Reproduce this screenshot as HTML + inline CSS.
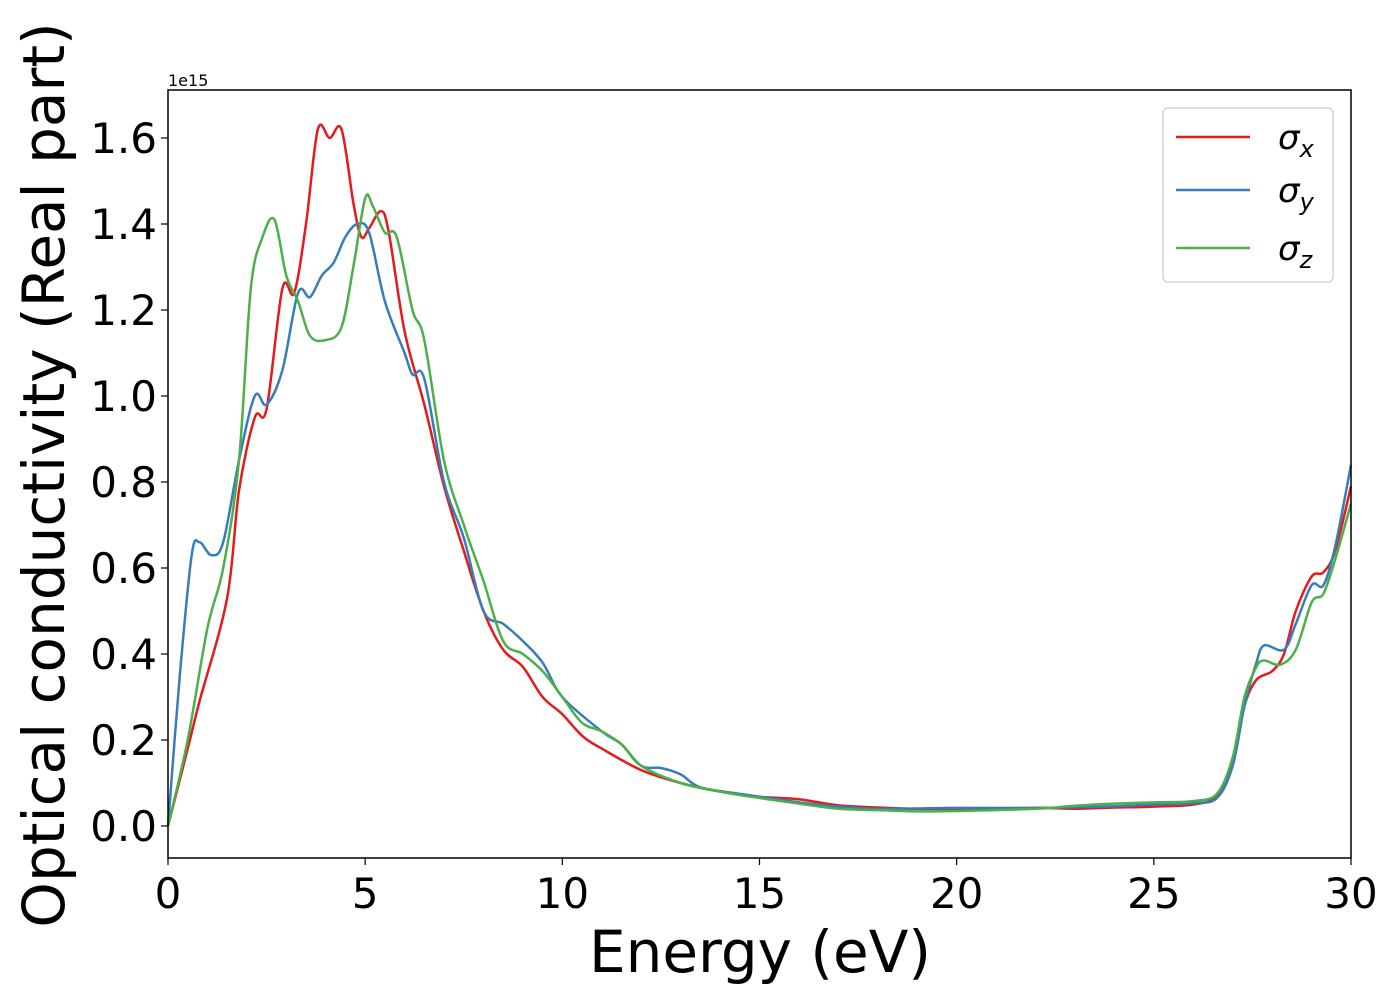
<!DOCTYPE html>
<html><head><meta charset="utf-8"><style>
html,body{margin:0;padding:0;background:#fff;}
svg{display:block;font-family:"DejaVu Sans","Liberation Sans",sans-serif;}
</style></head><body>
<svg id="chart" width="1400" height="1000" viewBox="0 0 1400 1000">
<rect x="0" y="0" width="1400" height="1000" fill="#fff"/>
<g id="plot"></g>
<rect x="168" y="90" width="1183" height="768" fill="none" stroke="#000" stroke-width="1.5"/>
<g id="xticks"></g>
<g id="yticks"></g>
<text x="168" y="86" font-size="16">1e15</text>
<text x="760" y="972" font-size="58" text-anchor="middle">Energy (eV)</text>
<text x="0" y="0" font-size="58" text-anchor="middle" transform="translate(64,475) rotate(-90)">Optical conductivity (Real part)</text>
<g>
<rect x="1163" y="108" width="170" height="174" rx="5" fill="#fff" stroke="#ccc" stroke-width="1.2"/>
<g>
<line x1="1176" y1="137" x2="1250" y2="137" stroke="#e41a1c" stroke-width="2.5"/>
<text x="1278" y="149" font-size="34" font-style="italic">σ<tspan font-size="24" dy="8">x</tspan></text></g>
<g>
<line x1="1176" y1="190" x2="1250" y2="190" stroke="#377eb8" stroke-width="2.5"/>
<text x="1278" y="202" font-size="34" font-style="italic">σ<tspan font-size="24" dy="8">y</tspan></text></g>
<g>
<line x1="1176" y1="248" x2="1250" y2="248" stroke="#4daf4a" stroke-width="2.5"/>
<text x="1278" y="260" font-size="34" font-style="italic">σ<tspan font-size="24" dy="8">z</tspan></text></g>
</g>
</svg>
<script>
const xTicks=[0,5,10,15,20,25,30];
const yTicks=[0,0.2,0.4,0.6,0.8,1.0,1.2,1.4,1.6];
const yTickLabels=["0.0","0.2","0.4","0.6","0.8","1.0","1.2","1.4","1.6"];
const redE=[0,0.5,0.8,1.5,1.8,2.2,2.5,2.9,3.2,3.5,3.8,4.1,4.4,4.7,4.9,5.1,5.4,5.6,6.0,6.5,7.0,7.5,8.0,8.5,9.0,9.5,10,10.5,11,12,13,14,15,16,17,18,19,20,22,23,24,25,26,26.6,27,27.3,27.6,28,28.3,28.6,29,29.3,29.6,30];
const redV=[0,0.18,0.29,0.53,0.78,0.95,0.97,1.25,1.24,1.4,1.62,1.60,1.62,1.45,1.37,1.39,1.43,1.38,1.15,0.98,0.79,0.64,0.5,0.41,0.37,0.3,0.26,0.21,0.18,0.13,0.1,0.08,0.068,0.062,0.048,0.043,0.04,0.04,0.042,0.04,0.043,0.045,0.05,0.07,0.15,0.28,0.34,0.36,0.40,0.5,0.58,0.59,0.64,0.79];
const blueE=[0,0.3,0.6,0.8,1.1,1.4,1.8,2.2,2.5,2.9,3.3,3.6,3.9,4.2,4.5,4.8,5.1,5.5,6.0,6.2,6.5,7.0,7.5,8,8.5,9,9.5,10,11,11.5,12,12.5,13,13.5,14.5,15,16,17,18,20,22,24,25,26,26.6,27,27.3,27.6,27.8,28.3,28.6,29,29.3,29.6,30];
const blueV=[0,0.35,0.63,0.66,0.63,0.66,0.85,1.0,0.98,1.06,1.24,1.23,1.28,1.31,1.37,1.40,1.38,1.22,1.1,1.05,1.04,0.8,0.67,0.5,0.47,0.43,0.38,0.3,0.22,0.19,0.14,0.135,0.12,0.09,0.075,0.068,0.055,0.045,0.04,0.042,0.042,0.046,0.05,0.053,0.065,0.14,0.28,0.38,0.42,0.41,0.47,0.56,0.56,0.65,0.84];
const greenE=[0,0.5,1.0,1.4,1.8,2.1,2.4,2.7,3.0,3.3,3.6,4.0,4.4,4.7,5.0,5.2,5.5,5.8,6.2,6.5,7.0,7.5,8,8.5,9,9.5,10,10.5,11,11.5,12,13,14,15,16,17,18,19,20,22,23,24,25,26,26.6,27,27.3,27.6,27.8,28.2,28.6,29,29.3,29.6,30];
const greenV=[0,0.2,0.46,0.6,0.85,1.25,1.37,1.41,1.28,1.22,1.14,1.13,1.16,1.3,1.46,1.44,1.38,1.37,1.2,1.13,0.85,0.7,0.57,0.43,0.4,0.36,0.3,0.24,0.22,0.19,0.14,0.1,0.08,0.065,0.052,0.04,0.037,0.034,0.035,0.04,0.047,0.052,0.055,0.058,0.075,0.16,0.3,0.37,0.385,0.375,0.41,0.52,0.54,0.62,0.75];

const NS='http://www.w3.org/2000/svg';
function xs(v){return 168+v*(1183/30);}
function ys(v){return 826-v*430;}
function smoothPath(E,V){
  const p=E.map((e,i)=>[xs(e),ys(V[i])]);
  let d='M'+p[0][0].toFixed(1)+','+p[0][1].toFixed(1);
  for(let i=0;i<p.length-1;i++){
    const p0=p[i-1]||p[i],p1=p[i],p2=p[i+1],p3=p[i+2]||p2;
    const c1=[p1[0]+(p2[0]-p0[0])/6,p1[1]+(p2[1]-p0[1])/6];
    const c2=[p2[0]-(p3[0]-p1[0])/6,p2[1]-(p3[1]-p1[1])/6];
    d+=' C'+c1[0].toFixed(1)+','+c1[1].toFixed(1)+' '+c2[0].toFixed(1)+','+c2[1].toFixed(1)+' '+p2[0].toFixed(1)+','+p2[1].toFixed(1);
  }
  return d;
}
const plot=document.getElementById('plot');
function addSeries(E,V,color,name){
  const el=document.createElementNS(NS,'path');
  el.setAttribute('d',smoothPath(E,V));
  el.setAttribute('fill','none');
  el.setAttribute('stroke',color);
  el.setAttribute('stroke-width','2.5');
  
  
  plot.appendChild(el);
}
addSeries(redE,redV,'#e41a1c','line-sigma-x');
addSeries(blueE,blueV,'#377eb8','line-sigma-y');
addSeries(greenE,greenV,'#4daf4a','line-sigma-z');

const xg=document.getElementById('xticks');
xTicks.forEach(t=>{
  const l=document.createElementNS(NS,'line');
  l.setAttribute('x1',xs(t));l.setAttribute('x2',xs(t));
  l.setAttribute('y1',858);l.setAttribute('y2',865);
  l.setAttribute('stroke','#000');l.setAttribute('stroke-width','1.2');
  
  
  xg.appendChild(l);
  const tx=document.createElementNS(NS,'text');
  tx.setAttribute('x',xs(t));tx.setAttribute('y',908);
  tx.setAttribute('font-size','42');tx.setAttribute('text-anchor','middle');
  tx.textContent=String(t);
  
  
  xg.appendChild(tx);
});
const yg=document.getElementById('yticks');
yTicks.forEach((t,i)=>{
  const l=document.createElementNS(NS,'line');
  l.setAttribute('x1',161);l.setAttribute('x2',168);
  l.setAttribute('y1',ys(t));l.setAttribute('y2',ys(t));
  l.setAttribute('stroke','#000');l.setAttribute('stroke-width','1.2');
  
  
  yg.appendChild(l);
  const tx=document.createElementNS(NS,'text');
  tx.setAttribute('x',157);tx.setAttribute('y',ys(t)+15);
  tx.setAttribute('font-size','42');tx.setAttribute('text-anchor','end');
  tx.textContent=yTickLabels[i];
  
  
  yg.appendChild(tx);
});
</script>
</body></html>
